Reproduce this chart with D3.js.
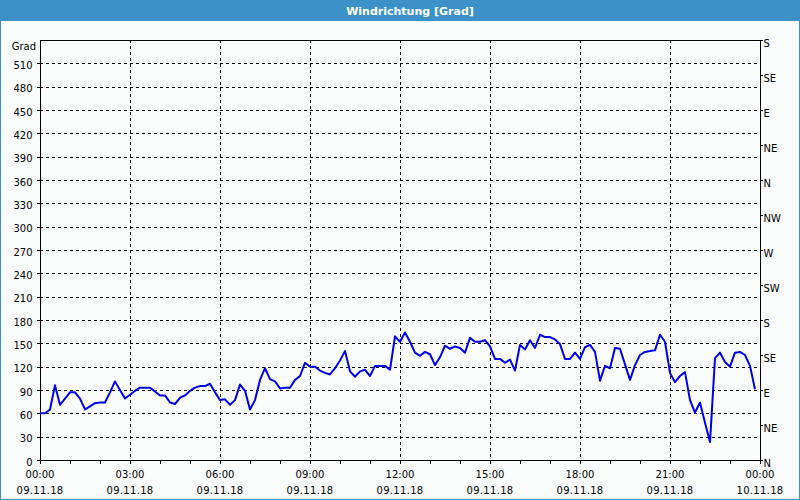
<!DOCTYPE html>
<html>
<head>
<meta charset="utf-8">
<script src="https://cdn.jsdelivr.net/npm/d3@7"></script>
<style>
  html, body { margin: 0; padding: 0; background: #fafcfb; }
  svg { display: block; }
</style>
</head>
<body>
<svg id="chart" width="800" height="500"></svg>
<script>
const title = "Windrichtung [Grad]";
const yUnit = "Grad";
const startTime = "2018-11-09T00:00:00";
const stepMinutes = 10;
const yTicks = [0, 30, 60, 90, 120, 150, 180, 210, 240, 270, 300, 330, 360, 390, 420, 450, 480, 510];
const dirTicks = [0, 45, 90, 135, 180, 225, 270, 315, 360, 405, 450, 495, 540];
const dirLabels = ["N", "NE", "E", "SE", "S", "SW", "W", "NW", "N", "NE", "E", "SE", "S"];
const xTickHours = [0, 3, 6, 9, 12, 15, 18, 21, 24];
const windDir = [
  60, 60, 65, 96, 71, 79, 87, 87, 79, 65,
  69, 73, 74, 74, 87, 101, 90, 79, 84, 89,
  93, 93, 93, 88, 83, 83, 74, 72, 80, 83,
  89, 93, 95, 95, 98, 87, 77, 78, 71, 77,
  97, 89, 65, 77, 103, 118, 104, 101, 92, 93,
  93, 103, 108, 125, 120, 120, 115, 112, 110, 118,
  128, 140, 114, 107, 114, 116, 108, 121, 121, 121,
  116, 159, 152, 164, 152, 138, 134, 139, 136, 122,
  132, 147, 143, 146, 144, 138, 157, 152, 152, 154,
  146, 130, 130, 125, 129, 115, 148, 142, 154, 144,
  161, 158, 158, 155, 149, 130, 130, 138, 130, 145,
  148, 139, 102, 121, 118, 144, 143, 123, 103, 122,
  135, 139, 140, 141, 161, 152, 112, 100, 108, 113,
  77, 61, 74, 48, 23, 131, 138, 126, 120, 138,
  139, 135, 121, 91
];

const svg = d3.select("#chart");
const W = 800, H = 500;
const m = { left: 40, right: 760, top: 40, bottom: 460 };
const font = "'DejaVu Sans', Verdana, sans-serif";

// background and frame
svg.append("rect").attr("x", 0).attr("y", 0).attr("width", W).attr("height", H).attr("fill", "#fafcfb");
svg.append("rect").attr("x", 0).attr("y", 0).attr("width", W).attr("height", 21).attr("fill", "#3c92c8");
svg.append("rect").attr("x", 0.5).attr("y", 0.5).attr("width", W - 1).attr("height", H - 1)
  .attr("fill", "none").attr("stroke", "#3c92c8").attr("stroke-width", 1);
svg.append("text").attr("x", 410).attr("y", 14.5).attr("text-anchor", "middle")
  .attr("fill", "#ffffff").attr("font-family", font).attr("font-weight", "bold").attr("font-size", "11px")
  .text(title);

const t0 = new Date(startTime);
const t1 = d3.timeHour.offset(t0, 24);
const x = d3.scaleTime().domain([t0, t1]).range([m.left, m.right]);
const y = d3.scaleLinear().domain([0, 540]).range([m.bottom, m.top]);

const g = svg.append("g");

// grid
g.selectAll(".hgrid").data(yTicks.filter(v => v > 0)).enter().append("line")
  .attr("x1", m.left).attr("x2", m.right)
  .attr("y1", d => Math.round(y(d)) + 0.5).attr("y2", d => Math.round(y(d)) + 0.5)
  .attr("stroke", "#000").attr("stroke-width", 1).attr("stroke-dasharray", "3,3")
  .attr("shape-rendering", "crispEdges");
g.selectAll(".vgrid").data(xTickHours.filter(h => h > 0 && h < 24)).enter().append("line")
  .attr("x1", d => Math.round(x(d3.timeHour.offset(t0, d))) + 0.5)
  .attr("x2", d => Math.round(x(d3.timeHour.offset(t0, d))) + 0.5)
  .attr("y1", m.top).attr("y2", m.bottom)
  .attr("stroke", "#000").attr("stroke-width", 1).attr("stroke-dasharray", "3,3")
  .attr("shape-rendering", "crispEdges");

// left axis
const leftAxis = d3.axisLeft(y).tickValues(yTicks).tickSize(4).tickPadding(4);
const la = svg.append("g").attr("transform", `translate(${m.left + 0.5},0)`).call(leftAxis);
la.select(".domain").remove();
la.selectAll("line").attr("stroke", "#000").attr("shape-rendering", "crispEdges");
la.selectAll("text").attr("font-family", font).attr("font-size", "10px").attr("fill", "#000")
  .attr("dy", "0.52em");

svg.append("text").attr("x", 36).attr("y", 50).attr("text-anchor", "end")
  .attr("font-family", font).attr("font-size", "10px").attr("fill", "#000").text(yUnit);

// right axis
const rightAxis = d3.axisRight(y).tickValues(dirTicks).tickSize(2).tickPadding(1)
  .tickFormat((d, i) => dirLabels[i]);
const ra = svg.append("g").attr("transform", `translate(${m.right + 0.5},0)`).call(rightAxis);
ra.select(".domain").remove();
ra.selectAll("line").attr("stroke", "#000").attr("shape-rendering", "crispEdges");
ra.selectAll("text").attr("font-family", font).attr("font-size", "10px").attr("fill", "#000")
  .attr("dy", "0.68em");

// bottom axis: hourly minor ticks
const hours = d3.range(0, 25).map(h => d3.timeHour.offset(t0, h));
const bottomAxis = d3.axisBottom(x).tickValues(hours).tickSize(3).tickFormat("");
const ba = svg.append("g").attr("transform", `translate(0,${m.bottom + 0.5})`).call(bottomAxis);
ba.select(".domain").remove();
ba.selectAll("line").attr("stroke", "#000").attr("shape-rendering", "crispEdges");

const fmtTime = d3.timeFormat("%H:%M");
const fmtDate = d3.timeFormat("%d.%m.%y");
const labelTimes = xTickHours.map(h => d3.timeHour.offset(t0, h));
const lbl = svg.append("g");
lbl.selectAll(".tl").data(labelTimes).enter().append("text")
  .attr("x", d => x(d)).attr("y", 478).attr("text-anchor", "middle")
  .attr("font-family", font).attr("font-size", "10px").attr("fill", "#000")
  .text(d => fmtTime(d));
lbl.selectAll(".dl").data(labelTimes).enter().append("text")
  .attr("x", d => x(d)).attr("y", 494).attr("text-anchor", "middle")
  .attr("font-family", font).attr("font-size", "10px").attr("fill", "#000")
  .attr("letter-spacing", "0.3px")
  .text(d => fmtDate(d));

// frame lines
svg.append("rect").attr("x", m.left + 0.5).attr("y", m.top + 0.5)
  .attr("width", m.right - m.left).attr("height", m.bottom - m.top)
  .attr("fill", "none").attr("stroke", "#000").attr("stroke-width", 1)
  .attr("shape-rendering", "crispEdges");

// data line
const pts = windDir.map((v, i) => ({ t: d3.timeMinute.offset(t0, i * stepMinutes), v }));
const line = d3.line().x(d => x(d.t)).y(d => y(d.v));
svg.append("path").datum(pts).attr("d", line)
  .attr("fill", "none").attr("stroke", "#0000e6").attr("stroke-width", 2)
  .attr("stroke-linejoin", "round");
</script>
</body>
</html>
